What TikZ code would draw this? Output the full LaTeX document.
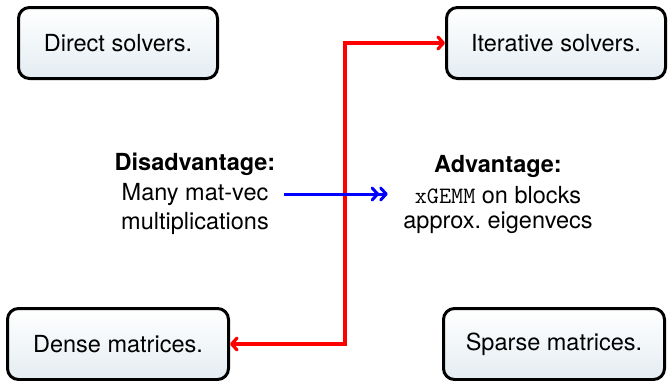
\documentclass[tikz,border=0pt]{standalone}
\usepackage{fontspec}
\setmainfont{TeX Gyre Heros}
\usetikzlibrary{calc,arrows.meta}
\definecolor{boxbot}{HTML}{E4EDF2}
\tikzset{
  box/.style={draw=black, line width=3pt, rounded corners=11pt,
    top color=white, bottom color=boxbot, minimum height=71pt, inner sep=0pt,
    font=\fontsize{23.5}{28}\selectfont},
  lbl/.style={inner sep=0pt, font=\fontsize{23.5}{28}\selectfont, anchor=base},
  barb/.tip={Straight Barb[length=5.5pt,width=12pt,round]},
  redcon/.style={red, line width=3.2pt, {barb}-{barb}},
  bluecon/.style={blue, line width=3pt, -{barb[]barb}}
}
\begin{document}
\begin{tikzpicture}[x=1pt,y=-1pt]
\useasboundingbox (0,0) rectangle (668,380);
\node[box, minimum width=199pt] (direct) at (118,43) {Direct solvers.};
\node[box, minimum width=219pt] (iter) at (556,43) {Iterative solvers.};
\node[box, minimum width=221pt] (dense) at (118,344) {Dense matrices.};
\node[box, minimum width=221pt] (sparse) at (554,344) {Sparse matrices.};

\node[lbl, font=\fontsize{23.5}{28}\selectfont\bfseries] (disT) at (195,170) {Disadvantage:};
\node[lbl] (disA) at (195,200) {Many mat-vec};
\node[lbl] (disB) at (195,229) {multiplications};
\node[lbl, font=\fontsize{23.5}{28}\selectfont\bfseries] (advT) at (498,172) {Advantage:};
\node[lbl] (advA) at (498,203) {\texttt{xGEMM} on blocks};
\node[lbl] (advB) at (498,228) {approx.\ eigenvecs};

\coordinate (bend) at (345,344);
\draw[redcon] (dense.east) -- (bend) |- (iter.west);
\coordinate (bs) at ($(disA.base east)+(15,-6)$);
\coordinate (be) at ($(advA.west)+(-27,0)$);
\draw[bluecon] (bs) -- (bs -| be);
\end{tikzpicture}
\end{document}
